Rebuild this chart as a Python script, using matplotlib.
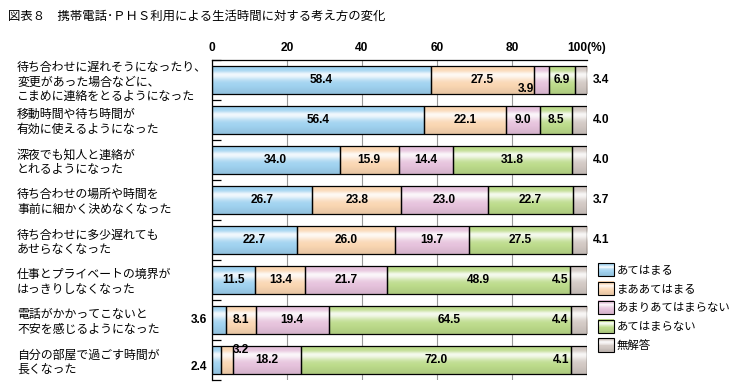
import numpy as np
import matplotlib
matplotlib.use('Agg')
import matplotlib.pyplot as plt
from matplotlib.patches import Rectangle
from matplotlib.legend_handler import HandlerBase
from matplotlib.transforms import blended_transform_factory
from matplotlib.colors import to_rgb

CJK = ['Noto Sans CJK JP', 'DejaVu Sans']
NUM = 'Liberation Sans'

title = '図表８　携帯電話･ＰＨＳ利用による生活時間に対する考え方の変化'
categories = [
    '待ち合わせに遅れそうになったり、\n変更があった場合などに、\nこまめに連絡をとるようになった',
    '移動時間や待ち時間が\n有効に使えるようになった',
    '深夜でも知人と連絡が\nとれるようになった',
    '待ち合わせの場所や時間を\n事前に細かく決めなくなった',
    '待ち合わせに多少遅れても\nあせらなくなった',
    '仕事とプライベートの境界が\nはっきりしなくなった',
    '電話がかかってこないと\n不安を感じるようになった',
    '自分の部屋で過ごす時間が\n長くなった',
]
series_names = ['あてはまる', 'まああてはまる', 'あまりあてはまらない', 'あてはまらない', '無解答']
atehamaru = [58.4, 56.4, 34.0, 26.7, 22.7, 11.5, 3.6, 2.4]
maa_atehamaru = [27.5, 22.1, 15.9, 23.8, 26.0, 13.4, 8.1, 3.2]
amari_atehamaranai = [3.9, 9.0, 14.4, 23.0, 19.7, 21.7, 19.4, 18.2]
atehamaranai = [6.9, 8.5, 31.8, 22.7, 27.5, 48.9, 64.5, 72.0]
mukaitou = [3.4, 4.0, 4.0, 3.7, 4.1, 4.5, 4.4, 4.1]
x_ticks = [0, 20, 40, 60, 80, 100]
x_tick_labels = ['0', '20', '40', '60', '80', '100(%)']

series = [atehamaru, maa_atehamaru, amari_atehamaranai, atehamaranai, mukaitou]
colors = ['#9fd2f0', '#fad6b2', '#e6c2dc', '#bcdb8a', '#d2c8c3']


def gradient_rgb(base, n=64):
    t = np.linspace(0, 1, n)
    sig = np.where(t < 0.3, 0.11, 0.2)
    w = 0.85 * np.exp(-((t - 0.3) / sig) ** 2)
    dark = 0.08 * np.clip((t - 0.7) / 0.3, 0, 1)
    b = np.array(to_rgb(base))
    col = b[None, :] * (1 - w[:, None]) + w[:, None]
    col = col * (1 - dark[:, None])
    return np.clip(col, 0, 1)


fig = plt.figure(figsize=(7.36, 3.89), dpi=100)
ax = fig.add_axes([212 / 736, 1 - 380 / 389, 375 / 736, 320 / 389])

y = np.arange(len(categories))
left = np.zeros(len(categories))
bar_h = 0.7
for vals, c in zip(series, colors):
    bars = ax.barh(y, vals, left=left, height=bar_h, facecolor='none',
                   edgecolor='black', linewidth=0.9, zorder=3)
    grad = gradient_rgb(c)[:, None, :]
    for p in bars.patches:
        x0, y0 = p.get_x(), p.get_y()
        w, h = p.get_width(), p.get_height()
        im = ax.imshow(grad, extent=[x0, x0 + w, y0 + h, y0], origin='upper',
                       aspect='auto', zorder=2, interpolation='bilinear')
        im.set_clip_path(p)
    left = left + np.array(vals)

ax.set_xlim(0, 100)
ax.set_ylim(len(categories) - 0.5, -0.5)

# value labels
lbl = dict(fontsize=8.6, fontweight='bold', family=NUM, zorder=5)
for si, vals in enumerate(series):
    lefts = np.sum([series[k] for k in range(si)], axis=0) if si > 0 else np.zeros(len(vals))
    for i, v in enumerate(vals):
        s = f'{v:.1f}'
        l0 = lefts[i]
        cx = l0 + v / 2
        if si == 0 and v < 5:
            dy = 0.18 if v < 3 else 0.0
            ax.text(-1.2, i + dy, s, ha='right', va='center', **lbl)
        elif si == 1 and v < 5:
            ax.text(l0 + v, i - 0.25, s, ha='left', va='center', **lbl)
        elif si == 2 and v < 5:
            ax.text(l0, i + 0.22, s, ha='right', va='center', **lbl)
        elif si == 4:
            if series[3][i] > 40:
                ax.text(l0 - 0.6, i, s, ha='right', va='center', **lbl)
            else:
                ax.text(101.6, i, s, ha='left', va='center', **lbl)
        else:
            ax.text(cx, i, s, ha='center', va='center', **lbl)

# category labels
tr = blended_transform_factory(fig.transFigure, ax.transData)
for i, cat in enumerate(categories):
    ax.text(17 / 736, i + 0.05, cat, transform=tr, ha='left', va='center',
            fontsize=8.6, family=CJK, linespacing=1.12)

# axes styling
ax.xaxis.tick_top()
ax.set_xticks(x_ticks)
ax.set_xticklabels(x_tick_labels, fontsize=8.6, fontweight='bold', family=NUM)
ax.tick_params(axis='x', length=0, pad=4)
ax.set_yticks([])
ax.set_yticks(np.arange(-0.5, len(categories) + 0.5, 1), minor=True)
ax.tick_params(axis='y', which='minor', direction='in', length=6.5, width=0.9, color='black')
ax.set_axisbelow(True)
ax.grid(axis='x', color='#999999', linewidth=0.8, zorder=0)
for side in ['right', 'bottom']:
    ax.spines[side].set_visible(False)
for side in ['top', 'left']:
    ax.spines[side].set_linewidth(0.9)
    ax.spines[side].set_color('black')

fig.text(8 / 736, 1 - 16 / 389, title, fontsize=8.9, family=CJK, va='center', ha='left')


class GradHandler(HandlerBase):
    def __init__(self, color):
        super().__init__()
        self.color = color

    def create_artists(self, legend, orig_handle, xdescent, ydescent, width, height, fontsize, trans):
        arts = []
        n = 16
        cols = gradient_rgb(self.color, n)
        for k in range(n):
            r = Rectangle((-xdescent, -ydescent + height * (1 - (k + 1) / n)), width, height / n + 0.3,
                          facecolor=cols[k], edgecolor='none', transform=trans)
            arts.append(r)
        arts.append(Rectangle((-xdescent, -ydescent), width, height, facecolor='none',
                              edgecolor='black', linewidth=0.8, transform=trans))
        return arts


handles = [Rectangle((0, 0), 1, 1, facecolor=c) for c in colors]
hmap = {h: GradHandler(c) for h, c in zip(handles, colors)}
leg = ax.legend(handles, series_names, handler_map=hmap, loc='upper left',
                bbox_to_anchor=(598 / 736, 1 - 263 / 389), bbox_transform=fig.transFigure,
                frameon=False, prop={'family': CJK, 'size': 8.2}, handlelength=1.4,
                handleheight=1.4, handletextpad=0.25, labelspacing=0.5, borderpad=0,
                borderaxespad=0)

fig.savefig('out.png', dpi=100)
